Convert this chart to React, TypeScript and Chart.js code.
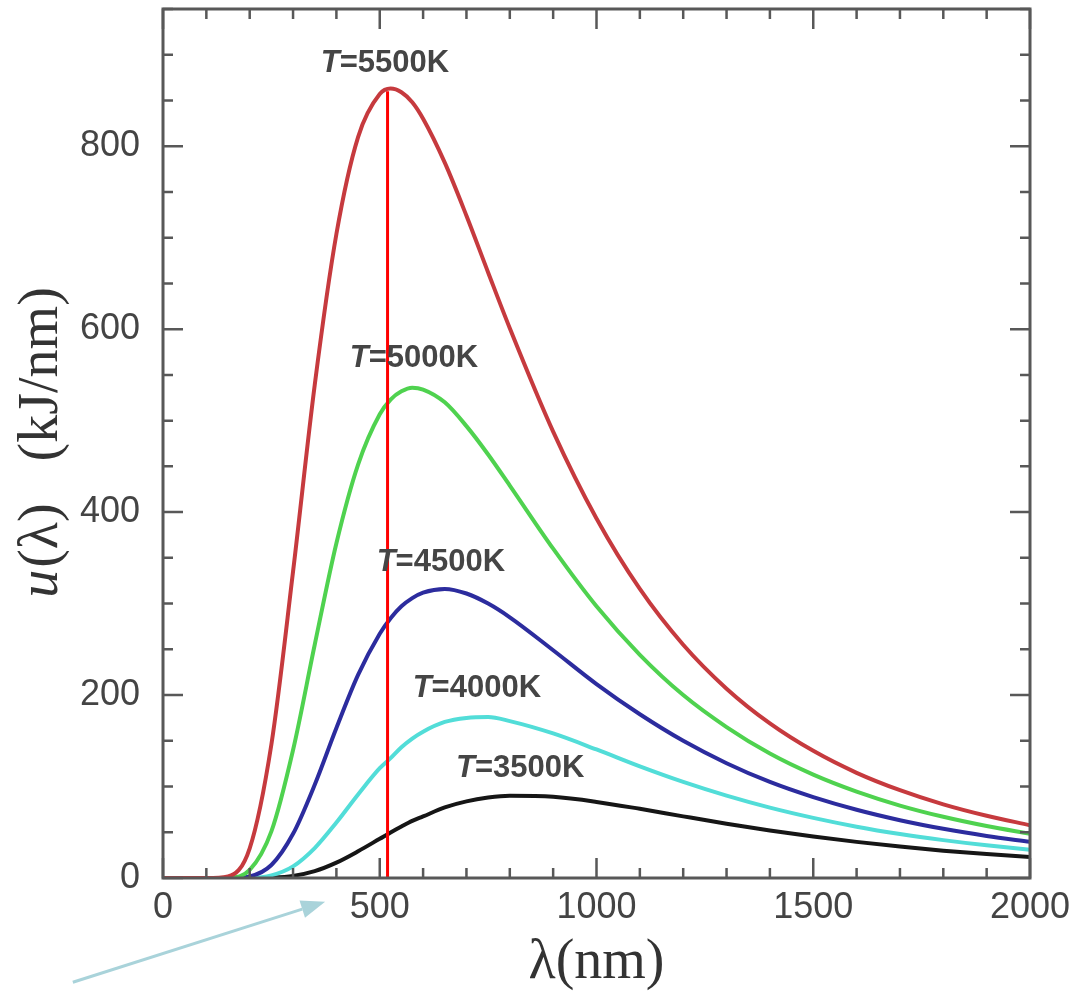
import { useEffect, useRef } from 'react';
import { Chart, registerables } from 'chart.js';

Chart.register(...registerables);

// Wavelength samples (nm)
const wavelengths = [0, 100, 150, 200, 250, 300, 350, 400, 450, 500, 525, 550, 575, 600, 650, 700, 750, 800, 900, 1000, 1100, 1200, 1300, 1400, 1500, 1600, 1700, 1800, 1900, 2000];

// Spectral energy density u(λ) in kJ/nm
const u5500 = [0, 0, 1.8, 32.5, 146, 335, 539, 704, 810, 857, 863, 859, 848, 830, 782, 724, 662, 601, 488, 393, 316, 255, 207, 169, 139, 115, 96, 80.5, 68, 57.7];
const u5000 = [0, 0, 0.3, 8.8, 51, 140, 255, 366, 452, 507, 523, 532, 536, 534, 520, 494, 463, 429, 360, 297, 244, 200, 165, 136, 113, 94.4, 79.2, 66.9, 56.8, 48.4];
const u4500 = [0, 0, 0, 1.8, 14.2, 48.3, 102, 164, 222, 267, 284, 297, 306, 312, 316, 311, 300, 285, 249, 212, 179, 150, 125.5, 105, 88.4, 74.6, 63.2, 53.8, 46, 39.5];
const u4000 = [0, 0, 0, 0.2, 2.9, 12.7, 32.7, 60.6, 91.3, 120, 131, 143, 152.5, 160, 170.6, 175, 176, 171.5, 158, 140.5, 122, 105, 90, 76.9, 65.7, 56.1, 48.1, 41.4, 35.7, 30.9];
const u3500 = [0, 0, 0, 0, 0.4, 2.3, 7.5, 16.8, 29.2, 42.9, 49.8, 56.3, 62.4, 67.3, 77.2, 83.8, 87.9, 89.8, 88.7, 83.2, 75.6, 67.4, 59.4, 52, 45.3, 39.5, 34.4, 29.9, 26.2, 22.9];

const seriesValues = [u5500, u5000, u4500, u4000, u3500];
const temperatureLabels = ['5500K', '5000K', '4500K', '4000K', '3500K'];
const curveColors = ['#c63a3e', '#4fd24f', '#2c2c9e', '#52ddd8', '#161616'];

// Curve label anchors (data coordinates)
const labelLambda = [512, 579, 641, 724, 824];
const labelValue = [891, 568, 345, 207, 120];

// Red marker line (data coordinates)
const markerLambda = [518, 518];
const markerValue = [0, 860];

// Annotation arrow (data coordinates, outside the plot)
const arrowLambda = [-208, 374];
const arrowValue = [-114, -26];

// Axis ticks
const xMin = 0, xMax = 2000, xMajorStep = 500, xMinorStep = 100;
const yMin = 0, yMax = 950, yMajorStep = 200, yMinorStep = 50;

const TICK_FONT = '"Liberation Sans", Arial, sans-serif';
const SERIF = '"Liberation Serif", "Times New Roman", serif';

const decorPlugin = {
  id: 'decor',
  afterDatasetsDraw(chart: any) {
    const { ctx, chartArea: a, scales } = chart;
    const x = scales.x, y = scales.y;
    ctx.save();
    // frame
    ctx.strokeStyle = '#585858';
    ctx.lineWidth = 3;
    ctx.strokeRect(a.left, a.top, a.right - a.left, a.bottom - a.top);
    // inward ticks on all sides
    ctx.lineWidth = 2.5;
    ctx.beginPath();
    for (let v = xMin; v <= xMax + 1e-6; v += xMinorStep) {
      const px = x.getPixelForValue(v);
      const len = v % xMajorStep === 0 ? 20 : 10;
      ctx.moveTo(px, a.bottom); ctx.lineTo(px, a.bottom - len);
      ctx.moveTo(px, a.top); ctx.lineTo(px, a.top + len);
    }
    for (let v = yMin; v <= yMax + 1e-6; v += yMinorStep) {
      const py = y.getPixelForValue(v);
      const len = v % yMajorStep === 0 ? 20 : 10;
      ctx.moveTo(a.left, py); ctx.lineTo(a.left + len, py);
      ctx.moveTo(a.right, py); ctx.lineTo(a.right - len, py);
    }
    ctx.stroke();

    // curve labels "T=....K" with italic T
    ctx.fillStyle = '#454545';
    ctx.textBaseline = 'middle';
    temperatureLabels.forEach((t, i) => {
      const cx = x.getPixelForValue(labelLambda[i]);
      const cy = y.getPixelForValue(labelValue[i]);
      const italic = `italic bold 31px ${TICK_FONT}`;
      const normal = `bold 31px ${TICK_FONT}`;
      ctx.font = italic;
      const wT = ctx.measureText('T').width;
      ctx.font = normal;
      const rest = '=' + t;
      const wR = ctx.measureText(rest).width;
      const start = cx - (wT + wR) / 2;
      ctx.textAlign = 'left';
      ctx.font = italic;
      ctx.fillText('T', start, cy);
      ctx.font = normal;
      ctx.fillText(rest, start + wT, cy);
    });
    ctx.restore();
  },
  afterDraw(chart: any) {
    const { ctx, chartArea: a, scales } = chart;
    const x = scales.x, y = scales.y;
    ctx.save();
    // arrow
    const x0 = x.getPixelForValue(arrowLambda[0]);
    const y0 = y.getPixelForValue(arrowValue[0]);
    const x1 = x.getPixelForValue(arrowLambda[1]);
    const y1 = y.getPixelForValue(arrowValue[1]);
    const ang = Math.atan2(y1 - y0, x1 - x0);
    const headLen = 24, headHalf = 9;
    const bx = x1 - headLen * Math.cos(ang);
    const by = y1 - headLen * Math.sin(ang);
    ctx.strokeStyle = '#a9d3da';
    ctx.fillStyle = '#a9d3da';
    ctx.lineWidth = 3;
    ctx.beginPath();
    ctx.moveTo(x0, y0);
    ctx.lineTo(bx, by);
    ctx.stroke();
    ctx.beginPath();
    ctx.moveTo(x1, y1);
    ctx.lineTo(bx + headHalf * Math.sin(ang), by - headHalf * Math.cos(ang));
    ctx.lineTo(bx - headHalf * Math.sin(ang), by + headHalf * Math.cos(ang));
    ctx.closePath();
    ctx.fill();

    // x-axis title
    ctx.fillStyle = '#333';
    ctx.textBaseline = 'middle';
    ctx.textAlign = 'center';
    ctx.font = `56px ${SERIF}`;
    ctx.fillText('λ(nm)', (a.left + a.right) / 2, a.bottom + 85);

    // y-axis title, rotated, italic u
    const cx = a.left - 121;
    const cy = (a.top + a.bottom) / 2;
    ctx.translate(cx, cy);
    ctx.rotate(-Math.PI / 2);
    const it = `italic 56px ${SERIF}`;
    const nm = `56px ${SERIF}`;
    const rest = '(λ)   (kJ/nm)';
    ctx.font = it;
    const wu = ctx.measureText('u').width;
    ctx.font = nm;
    const wr = ctx.measureText(rest).width;
    const start = -(wu + wr) / 2;
    ctx.textAlign = 'left';
    ctx.font = it;
    ctx.fillText('u', start, 0);
    ctx.font = nm;
    ctx.fillText(rest, start + wu + 2, 0);
    ctx.restore();
  },
};

const zeroPadding = (s: any) => {
  s.paddingTop = 0;
  s.paddingBottom = 0;
  s.paddingLeft = 0;
  s.paddingRight = 0;
};

export default function App() {
  const canvasRef = useRef<HTMLCanvasElement | null>(null);

  useEffect(() => {
    document.body.style.margin = '0';
    const canvas = canvasRef.current;
    if (!canvas) return;

    const curveDatasets = seriesValues.map((vals, i) => ({
      label: 'T=' + temperatureLabels[i],
      data: wavelengths.map((w, j) => ({ x: w, y: vals[j] })),
      borderColor: curveColors[i],
      borderWidth: 4,
      pointRadius: 0,
      fill: false,
      cubicInterpolationMode: 'monotone' as const,
    }));

    const markerDataset = {
      label: 'marker',
      data: markerLambda.map((w, j) => ({ x: w, y: markerValue[j] })),
      borderColor: '#ff0000',
      borderWidth: 3,
      pointRadius: 0,
      fill: false,
      tension: 0,
    };

    const chart = new Chart(canvas, {
      type: 'line',
      data: { datasets: [markerDataset, ...curveDatasets] },
      options: {
        animation: false,
        responsive: false,
        devicePixelRatio: 1,
        layout: { padding: { top: 9, right: 46, left: 0, bottom: 0 } },
        plugins: {
          legend: { display: false },
          tooltip: { enabled: false },
        },
        scales: {
          x: {
            type: 'linear',
            min: xMin,
            max: xMax,
            grid: { display: false, drawTicks: false },
            border: { display: false },
            ticks: {
              stepSize: xMajorStep,
              color: '#444',
              font: { family: TICK_FONT, size: 36 },
              padding: 8,
              maxRotation: 0,
              callback: (v: any) => String(v),
            },
            afterFit: (s: any) => { s.height = 115; zeroPadding(s); },
          },
          y: {
            type: 'linear',
            min: yMin,
            max: yMax,
            grid: { display: false, drawTicks: false },
            border: { display: false },
            ticks: {
              stepSize: yMajorStep,
              color: '#444',
              font: { family: TICK_FONT, size: 36 },
              padding: 23,
              callback: (v: any) => String(v),
            },
            afterBuildTicks: (s: any) => {
              s.ticks = s.ticks.filter((t: any) => t.value % yMajorStep === 0);
            },
            afterFit: (s: any) => { s.width = 163; zeroPadding(s); },
          },
        },
      },
      plugins: [decorPlugin],
    });

    return () => chart.destroy();
  }, []);

  return (
    <div style={{ width: 1076, height: 993, background: '#fff' }}>
      <canvas ref={canvasRef} width={1076} height={993} style={{ display: 'block' }} />
    </div>
  );
}
